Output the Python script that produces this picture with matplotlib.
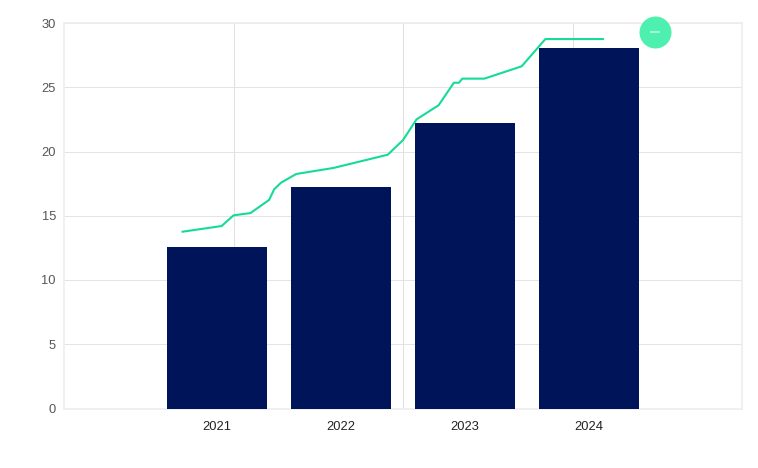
import matplotlib
matplotlib.use("Agg")
import matplotlib.pyplot as plt

plt.rcParams['font.family'] = ['Liberation Sans', 'DejaVu Sans']

# bars
years = ['2021', '2022', '2023', '2024']
bar_values = [12.57, 17.24, 22.2, 28.05]

# green line, on its own continuous x axis
line_x = [2020.70, 2020.93, 2021.0, 2021.10, 2021.21, 2021.24, 2021.28, 2021.37,
          2021.59, 2021.91, 2022.0, 2022.08, 2022.21, 2022.30, 2022.33, 2022.35,
          2022.48, 2022.70, 2022.84, 2023.18]
line_y = [13.76, 14.2, 15.03, 15.21, 16.23, 17.06, 17.57, 18.25,
          18.72, 19.75, 20.89, 22.5, 23.6, 25.35, 25.35, 25.67,
          25.67, 26.63, 28.75, 28.75]

# round button
marker_x = [2023.487]
marker_y = [29.3]

y_ticks = [0, 5, 10, 15, 20, 25, 30]
v_grid = [2021, 2022, 2023]

fig = plt.figure(figsize=(7.58, 4.68), dpi=100)
ax = fig.add_axes([64 / 758, 1 - 408.5 / 468, 678 / 758, 385.5 / 468])

ax.bar(range(4), bar_values, width=100 / 124, color='#00145a', zorder=3)
ax.set_xlim(-153 / 124, 525 / 124)
ax.set_ylim(0, 30)
ax.set_yticks(y_ticks)
ax.set_xticks(range(4))
ax.set_xticklabels(years)
ax.tick_params(axis='y', length=0, pad=5.8, labelsize=9.3, labelcolor='#555555')
ax.tick_params(axis='x', length=0, pad=9, labelsize=9.3, labelcolor='#222222')
ax.grid(axis='y', color='#e4e4e4', linewidth=0.75, zorder=0)
ax.set_axisbelow(True)
for s in ax.spines.values():
    s.set_color('#eeeeee')
    s.set_linewidth(1.2)

# second x axis for the line
ax2 = ax.twiny()
ax2.set_xlim(2020, 2024)
ax2.set_xticks([])
ax2.patch.set_visible(False)
for s in ax2.spines.values():
    s.set_visible(False)
for x in v_grid:
    ax.axvline((x - 2020) * 169.5 / 124 - 153 / 124, color='#e0e0e0', linewidth=0.75, zorder=1)
ax2.plot(line_x, line_y, color='#14dc96', linewidth=1.5, zorder=5)
ax2.scatter(marker_x, marker_y, s=530, color='#4df0ae', linewidths=0, zorder=6, clip_on=False)
ax2.scatter(marker_x, marker_y, s=60, marker='_', color='#b5f7dc', linewidths=1.2, zorder=7, clip_on=False)

fig.savefig('out.png', dpi=100)
